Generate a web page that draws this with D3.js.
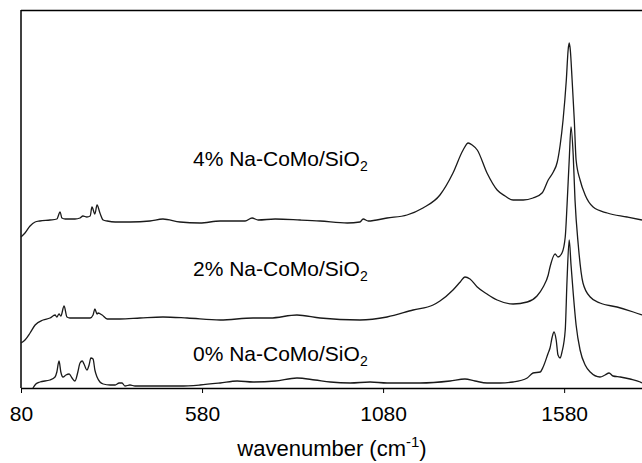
<!DOCTYPE html>
<html>
<head>
<meta charset="utf-8">
<script src="https://cdn.jsdelivr.net/npm/d3@7"></script>
<style>
  body { margin: 0; background: #fff; }
  svg { display: block; font-family: "Liberation Sans", Arial, sans-serif; }
</style>
</head>
<body>
<svg width="642" height="463"></svg>
<script>
const width = 642;
const height = 463;

// spectra (wavenumber in cm-1, intensity in arbitrary units)
const wn4 = [80, 91, 105, 119, 132, 160, 179, 188, 193, 202, 229, 243, 251, 262, 271, 276, 284, 290, 298, 307, 318, 340, 381, 436, 472, 519, 574, 630, 699, 718, 735, 782, 851, 906, 981, 1016, 1025, 1039, 1091, 1146, 1190, 1237, 1273, 1301, 1315, 1326, 1340, 1367, 1395, 1417, 1439, 1467, 1494, 1519, 1536, 1550, 1561, 1569, 1577, 1586, 1591, 1594, 1597, 1602, 1608, 1613, 1624, 1638, 1660, 1699, 1754, 1795];
const int4 = [151, 155, 162, 166, 167, 168, 169, 176, 170, 169, 169, 170, 172, 171, 172, 181, 174, 183, 175, 168, 167, 166, 166, 167, 169, 166, 165, 167, 167, 170, 168, 169, 168, 167, 165, 166, 169, 167, 170, 173, 180, 193, 215, 238, 245, 243, 238, 215, 198, 192, 188, 188, 190, 195, 208, 216, 226, 243, 268, 308, 338, 345, 338, 308, 268, 228, 208, 193, 181, 175, 171, 168];

const wn2 = [80, 91, 105, 119, 141, 160, 174, 179, 185, 190, 199, 207, 215, 243, 271, 279, 284, 290, 293, 304, 318, 353, 409, 472, 539, 630, 721, 768, 842, 906, 1016, 1091, 1163, 1218, 1237, 1273, 1293, 1306, 1320, 1340, 1367, 1395, 1439, 1478, 1505, 1522, 1536, 1541, 1555, 1563, 1574, 1583, 1588, 1594, 1599, 1605, 1610, 1619, 1632, 1652, 1679, 1726, 1771, 1795];
const int2 = [45, 48, 55, 63, 68, 70, 73, 71, 74, 72, 82, 71, 70, 70, 70, 73, 79, 74, 75, 73, 69, 69, 70, 71, 70, 68, 70, 70, 73, 70, 68, 71, 78, 83, 87, 98, 106, 111, 109, 101, 94, 88, 84, 86, 92, 101, 113, 121, 134, 131, 135, 151, 183, 228, 261, 233, 188, 143, 105, 91, 85, 81, 76, 73];

const wn0 = [113, 121, 132, 160, 174, 179, 185, 190, 196, 204, 213, 221, 229, 237, 243, 249, 254, 262, 268, 273, 279, 284, 290, 298, 307, 326, 340, 351, 359, 367, 381, 395, 436, 519, 574, 630, 677, 721, 782, 842, 892, 934, 989, 1044, 1091, 1182, 1265, 1306, 1334, 1367, 1403, 1439, 1478, 1494, 1514, 1522, 1536, 1541, 1547, 1552, 1558, 1563, 1569, 1574, 1583, 1588, 1594, 1599, 1605, 1613, 1624, 1638, 1652, 1679, 1693, 1704, 1715, 1735, 1762, 1790, 1795];
const int0 = [0, 4, 6, 8, 11, 16, 27, 16, 11, 13, 14, 10, 7, 16, 25, 27, 24, 18, 23, 30, 29, 18, 11, 6, 4, 3, 3, 5, 5, 2, 3, 2, 2, 2, 3, 5, 7, 6, 7, 10, 8, 6, 5, 6, 5, 5, 7, 9, 7, 5, 5, 6, 10, 15, 16, 21, 35, 40, 51, 56, 48, 33, 30, 36, 58, 108, 148, 123, 95, 63, 38, 23, 16, 11, 13, 15, 12, 11, 9, 6, 5];

const sampleNames = ["4% Na-CoMo/SiO", "2% Na-CoMo/SiO", "0% Na-CoMo/SiO"];
const labelWn = [555, 555, 555];
const labelInt = [222, 112, 27];

const xTicks = [80, 580, 1080, 1580];

const svg = d3.select("svg");

const x = d3.scaleLinear().domain([80, 1795]).range([21, 642]);
const y = d3.scaleLinear().domain([0, 377]).range([388, 11]);

// frame: top and left
svg.append("line")
    .attr("x1", 21).attr("x2", 660)
    .attr("y1", 10.5).attr("y2", 10.5)
    .attr("stroke", "#000").attr("stroke-width", 1.5);
svg.append("line")
    .attr("x1", 21).attr("x2", 21)
    .attr("y1", 10).attr("y2", 388)
    .attr("stroke", "#000").attr("stroke-width", 1.5);

// x axis
const xAxis = svg.append("g")
    .attr("transform", "translate(0,388)")
    .call(d3.axisBottom(x).tickValues(xTicks).tickFormat(d3.format("d")).tickSize(5).tickSizeOuter(0));
xAxis.select(".domain").attr("stroke", "#000").attr("stroke-width", 1.5);
xAxis.selectAll(".tick line").attr("stroke", "#000").attr("stroke-width", 1);
xAxis.selectAll(".tick text")
    .attr("font-family", "Liberation Sans, Arial, sans-serif")
    .attr("font-size", "21px")
    .attr("fill", "#000")
    .attr("y", 18)
    .attr("dy", "0.71em");

// X label
const xLabel = svg.append("text")
    .attr("x", 332)
    .attr("y", 456)
    .attr("font-size", "22px")
    .attr("text-anchor", "middle")
    .attr("fill", "#000");
xLabel.append("tspan").text("wavenumber (cm");
xLabel.append("tspan").attr("dy", -9).attr("font-size", "15px").text("-1");
xLabel.append("tspan").attr("dy", 9).text(")");

// spectra
const line = d3.line()
    .x(d => x(d[0]))
    .y(d => y(d[1]))
    .curve(d3.curveMonotoneX);

const series = [
    d3.zip(wn4, int4),
    d3.zip(wn2, int2),
    d3.zip(wn0, int0)
];

svg.append("g")
    .selectAll("path")
    .data(series)
    .join("path")
    .attr("d", line)
    .attr("fill", "none")
    .attr("stroke", "#1a1a1a")
    .attr("stroke-width", 1.3)
    .attr("stroke-linejoin", "round");

// sample labels
sampleNames.forEach((name, i) => {
    const t = svg.append("text")
        .attr("x", x(labelWn[i]))
        .attr("y", y(labelInt[i]))
        .attr("font-size", "21px")
        .attr("fill", "#000");
    t.append("tspan").text(name);
    t.append("tspan").attr("dy", 5).attr("font-size", "14px").text("2");
});
</script>
</body>
</html>
